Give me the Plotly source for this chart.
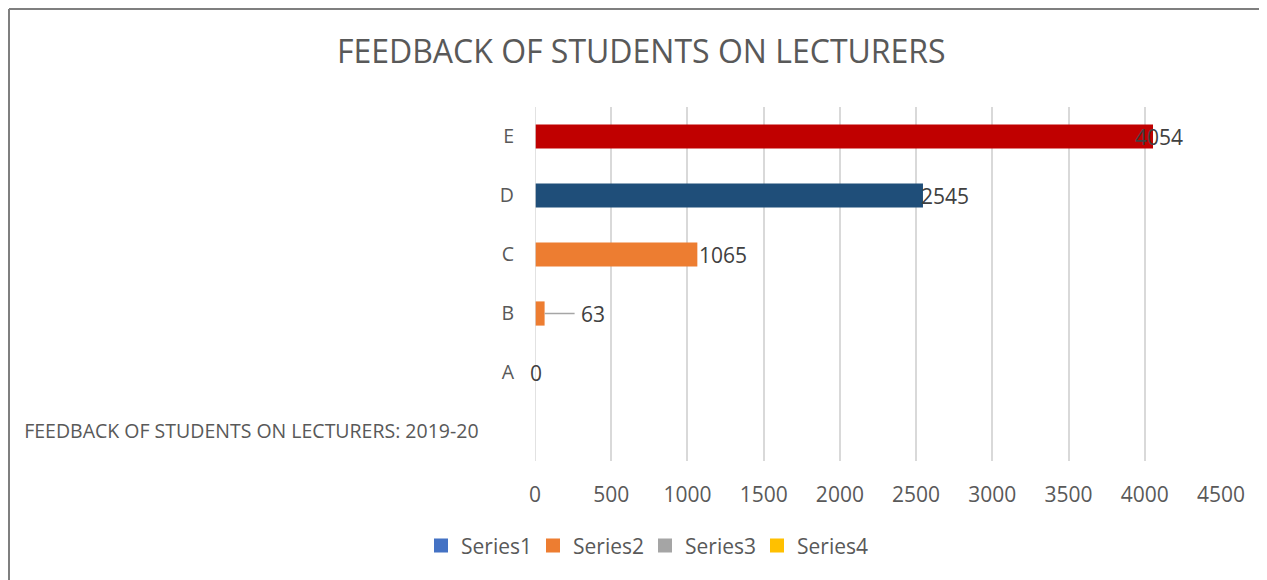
import plotly.graph_objects as go

categories = ["FEEDBACK OF STUDENTS ON LECTURERS: 2019-20", "A", "B", "C", "D", "E"]
values = [None, 0, 63, 1065, 2545, 4054]
bar_colors = ["#4472C4", "#4472C4", "#ED7D31", "#ED7D31", "#1F4E79", "#C00000"]
legend_names = ["Series1", "Series2", "Series3", "Series4"]
legend_colors = ["#4472C4", "#ED7D31", "#A5A5A5", "#FFC000"]

TXT = "#595959"
FONT = "Open Sans"
W, H = 1259, 572          # page puts the figure at (8, 8)
L, R, T, B = 527, 46, 99, 119
PW, PH = W - L - R, H - T - B

fig = go.Figure()
fig.add_trace(go.Bar(y=categories, x=values, orientation="h", width=0.41,
                     marker=dict(color=bar_colors, line_width=0), showlegend=False))

# legend only entries
for name, col in zip(legend_names, legend_colors):
    fig.add_trace(go.Scatter(y=[None], x=[None], mode="markers", name=name,
                             marker=dict(color=col, symbol="square", size=14)))

# data labels (manually nudged like in the original)
label_shift = {"A": -7, "C": 0, "D": -4, "E": -20}
for cat, v in zip(categories, values):
    if v is None:
        continue
    if cat == "B":
        fig.add_annotation(x=v, y=cat, text=str(v), showarrow=True, arrowhead=0,
                           arrowwidth=1.5, arrowcolor="#A6A6A6", ax=30, ay=0,
                           standoff=0, xanchor="left", borderpad=5,
                           font=dict(size=21, color="#404040", family=FONT))
    else:
        fig.add_annotation(x=v, y=cat, text=str(v), showarrow=False, xanchor="left",
                           xshift=label_shift[cat], yshift=0,
                           font=dict(size=21, color="#404040", family=FONT))

ticktext = [c + "\u00a0" * 7 if len(c) > 1 else c for c in categories]

fig.update_layout(
    width=W, height=H,
    paper_bgcolor="white", plot_bgcolor="white",
    margin=dict(l=L, r=R, t=T, b=B),
    title=dict(text="FEEDBACK OF STUDENTS ON LECTURERS", x=0.503, xanchor="center",
               y=1 - 44 / H, yanchor="middle", font=dict(size=32, color=TXT, family=FONT)),
    font=dict(family=FONT, color=TXT),
    legend=dict(orientation="h", x=(637 - L) / PW, xanchor="center",
                y=-0.24, yanchor="middle",
                font=dict(size=21, color=TXT), traceorder="normal",
                itemwidth=30, entrywidthmode="pixels", entrywidth=67),
)
fig.update_xaxes(range=[0, 4500], dtick=500, showgrid=True, gridcolor="#D9D9D9",
                 gridwidth=1.5, zeroline=False, showline=False, automargin=False,
                 tickfont=dict(size=21, color=TXT), ticklabelstandoff=19)
fig.update_yaxes(type="category", categoryorder="array", categoryarray=categories,
                 tickvals=categories, ticktext=ticktext, automargin=False,
                 showgrid=False, showline=False, ticks="",
                 tickfont=dict(size=19.5, color=TXT), ticklabelstandoff=20)
fig.add_shape(type="line", xref="x", yref="paper", x0=0, x1=0, y0=0, y1=1,
              line=dict(color="#D9D9D9", width=1.5))
# chart area border (only left/top edges visible in the crop)
fig.add_shape(type="line", xref="paper", yref="paper", x0=-(L - 1) / PW, x1=-(L - 1) / PW,
              y0=-B / PH, y1=1 + (T - 1) / PH, line=dict(color="#7F7F7F", width=2))
fig.add_shape(type="line", xref="paper", yref="paper", x0=-(L - 1) / PW, x1=1 + R / PW,
              y0=1 + (T - 1) / PH, y1=1 + (T - 1) / PH, line=dict(color="#7F7F7F", width=2))

fig.write_html("out.html")
